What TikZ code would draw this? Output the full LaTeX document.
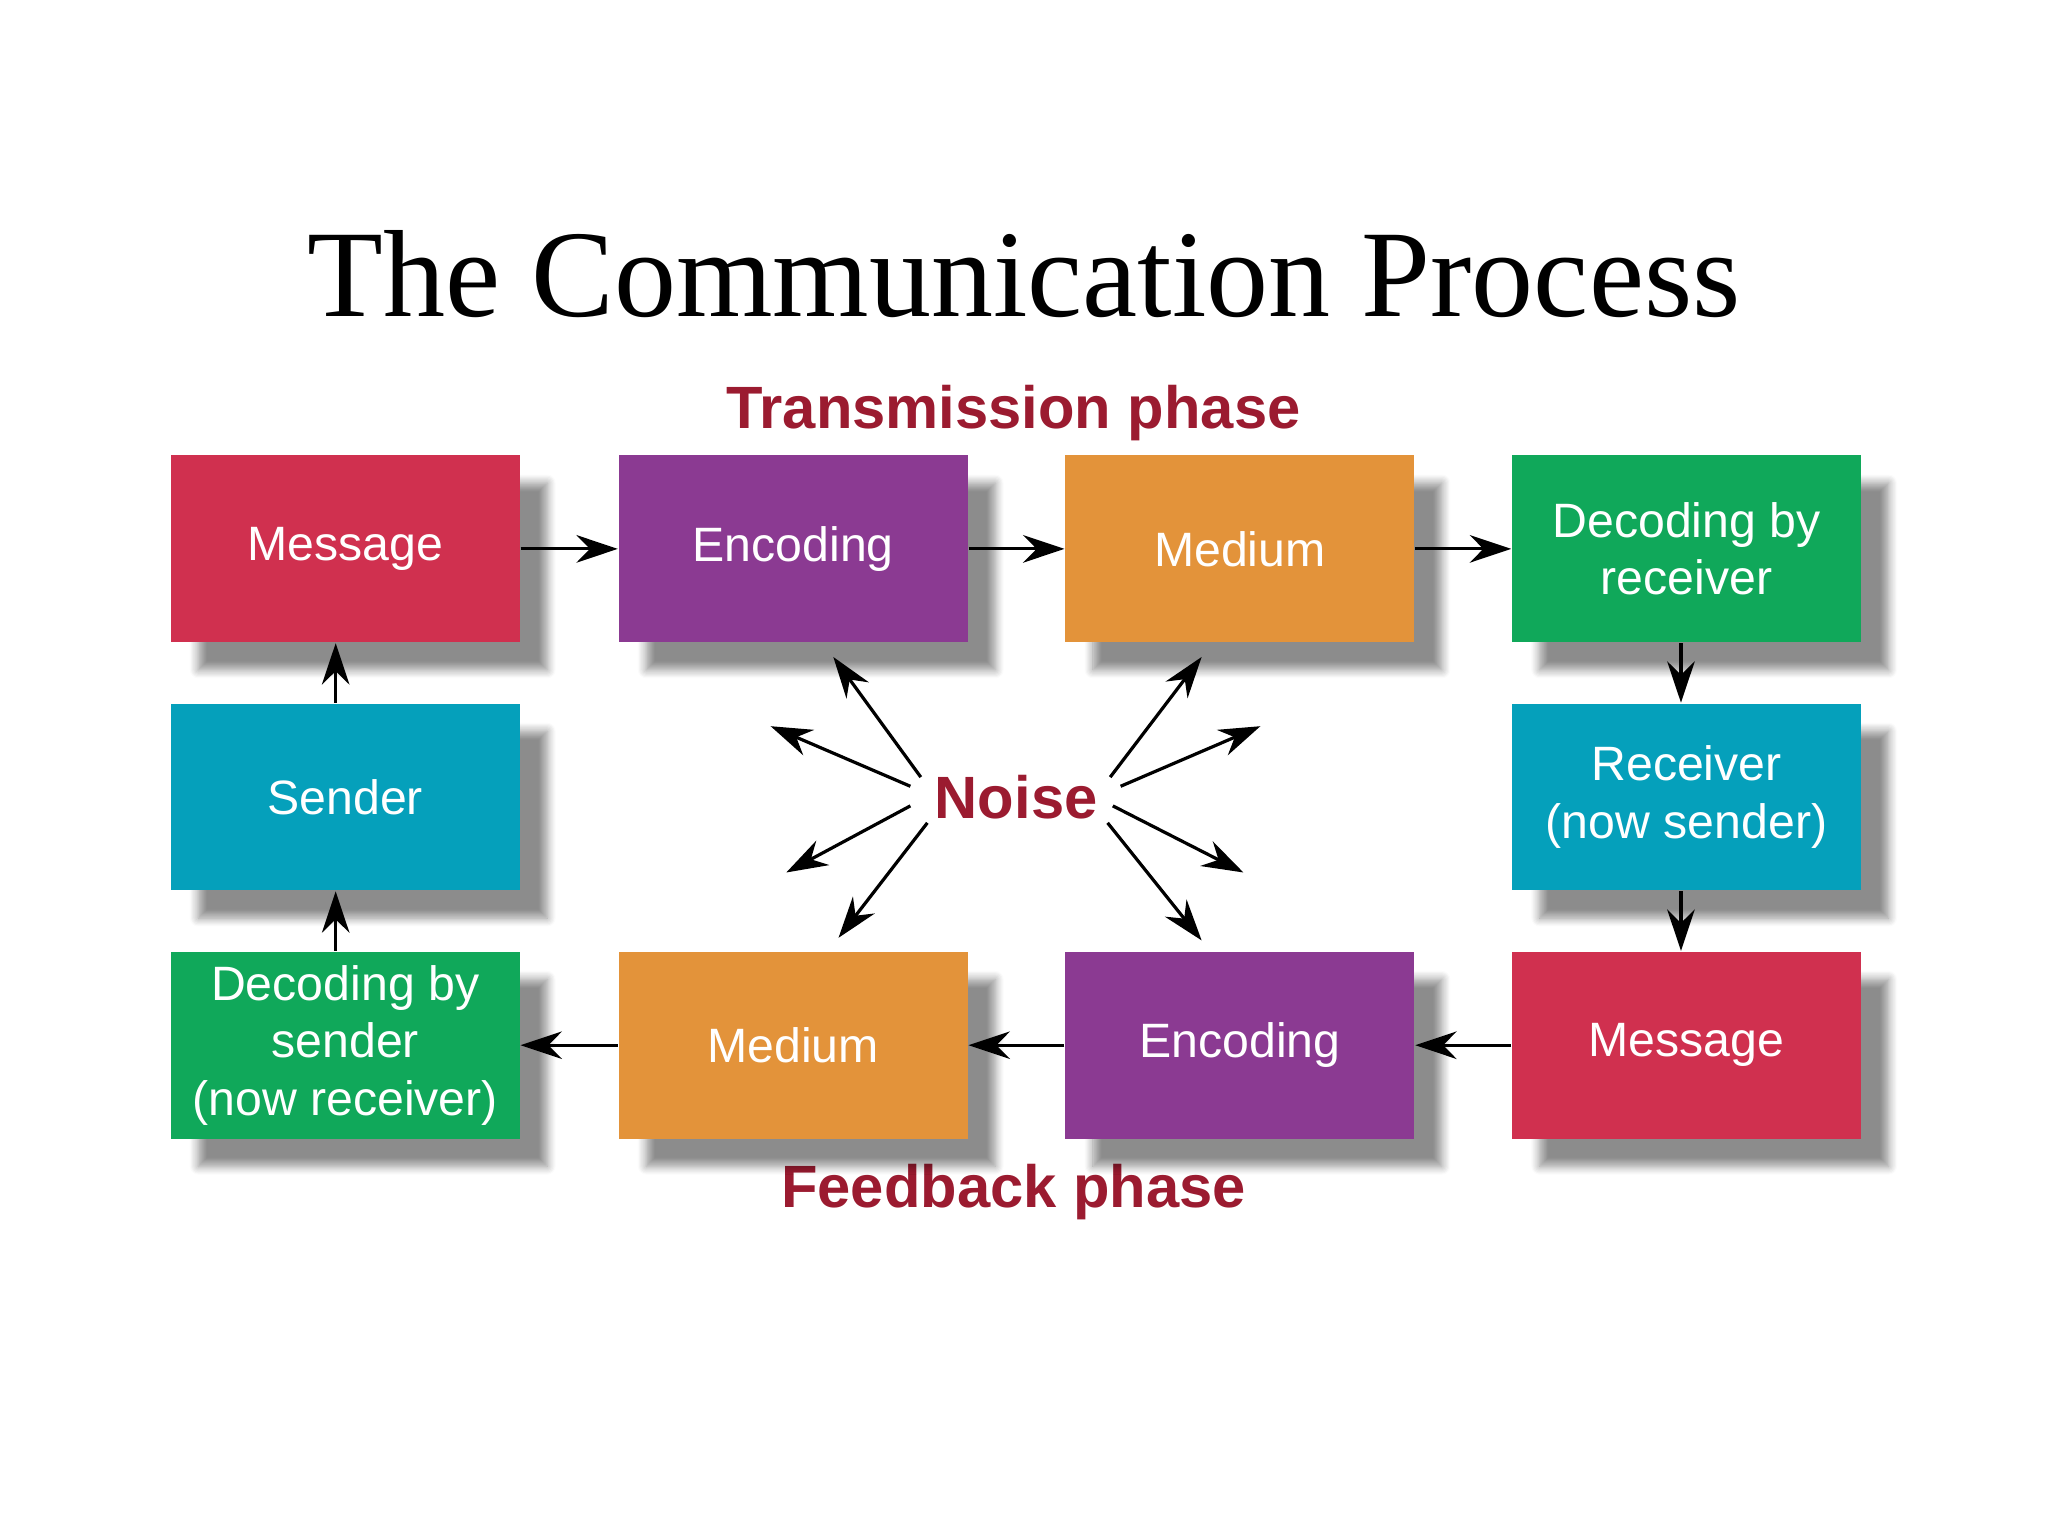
\documentclass[tikz,border=0pt]{standalone}
\usepackage{fontspec}
\setmainfont{Liberation Serif}
\setsansfont{Liberation Sans}
\usetikzlibrary{shadows.blur,arrows.meta}
\definecolor{cred}{HTML}{D0304F}
\definecolor{cpur}{HTML}{8B3A92}
\definecolor{corg}{HTML}{E3933A}
\definecolor{cgrn}{HTML}{10A85A}
\definecolor{ctea}{HTML}{05A0BB}
\definecolor{clab}{HTML}{9B1B30}
\begin{document}
\begin{tikzpicture}[x=0.01cm,y=-0.01cm,
 box/.style={minimum width=7.57cm-0.4pt,minimum height=4.05cm,inner sep=0pt,align=center,text=white,font=\sffamily\fontsize{10.5}{12.5}\selectfont,anchor=north west,blur shadow={shadow xshift=6pt,shadow yshift=-6pt,shadow blur steps=8,shadow opacity=45}},
 arr/.style={-{Stealth[length=9pt,width=6pt]},line width=0.7pt},
 phase/.style={text=clab,font=\sffamily\bfseries\fontsize{13}{15}\selectfont}]
\useasboundingbox (0,0) rectangle (1568,1176);
\node[font=\fontsize{27}{30}\selectfont] (title) at (784,210) {The Communication Process};
\node[phase] (tp) at (776,316) {Transmission phase};
\node[phase] (fp) at (776,913) {Feedback phase};
\node[box,fill=cred,minimum width=2.67cm,minimum height=1.43cm] (m1) at (130,348) {Message};
\node[box,fill=cpur,minimum width=2.67cm,minimum height=1.43cm] (e1) at (473,348) {Encoding};
\node[box,fill=corg,minimum width=2.67cm,minimum height=1.43cm] (md1) at (815,348) {Medium};
\node[box,fill=cgrn,minimum width=2.67cm,minimum height=1.43cm] (d1) at (1157,348) {Decoding by\\receiver};
\node[box,fill=ctea,minimum width=2.67cm,minimum height=1.43cm] (s) at (130,538) {Sender};
\node[box,fill=ctea,minimum width=2.67cm,minimum height=1.43cm] (r) at (1157,538) {Receiver\\(now sender)};
\node[box,fill=cgrn,minimum width=2.67cm,minimum height=1.43cm] (d2) at (130,728) {Decoding by\\sender\\(now receiver)};
\node[box,fill=corg,minimum width=2.67cm,minimum height=1.43cm] (md2) at (473,728) {Medium};
\node[box,fill=cpur,minimum width=2.67cm,minimum height=1.43cm] (e2) at (815,728) {Encoding};
\node[box,fill=cred,minimum width=2.67cm,minimum height=1.43cm] (m2) at (1157,728) {Message};
\draw[arr] (m1) -- (e1);
\draw[arr] (e1) -- (md1);
\draw[arr] (md1) -- (d1);
\draw[arr] (d1.south-|1287,0) -- (r.north-|1287,0);
\draw[arr] (r.south-|1287,0) -- (m2.north-|1287,0);
\draw[arr] (m2) -- (e2);
\draw[arr] (e2) -- (md2);
\draw[arr] (md2) -- (d2);
\draw[arr] (d2.north-|257,0) -- (s.south-|257,0);
\draw[arr] (s.north-|257,0) -- (m1.south-|257,0);
\node[text=clab,font=\sffamily\bfseries\fontsize{13}{15}\selectfont] (noise) at (778,610) {Noise};
\coordinate (n1) at (638,503); \coordinate (n2) at (590,556);
\coordinate (n3) at (602,668); \coordinate (n4) at (642,718);
\coordinate (n5) at (920,503); \coordinate (n6) at (965,556);
\coordinate (n7) at (952,668); \coordinate (n8) at (920,720);
\draw[arr] (705,595) -- (n1);
\draw[arr] (697,602) -- (n2);
\draw[arr] (697,617) -- (n3);
\draw[arr] (710,630) -- (n4);
\draw[arr] (850,595) -- (n5);
\draw[arr] (858,602) -- (n6);
\draw[arr] (852,617) -- (n7);
\draw[arr] (848,630) -- (n8);
\end{tikzpicture}
\end{document}
